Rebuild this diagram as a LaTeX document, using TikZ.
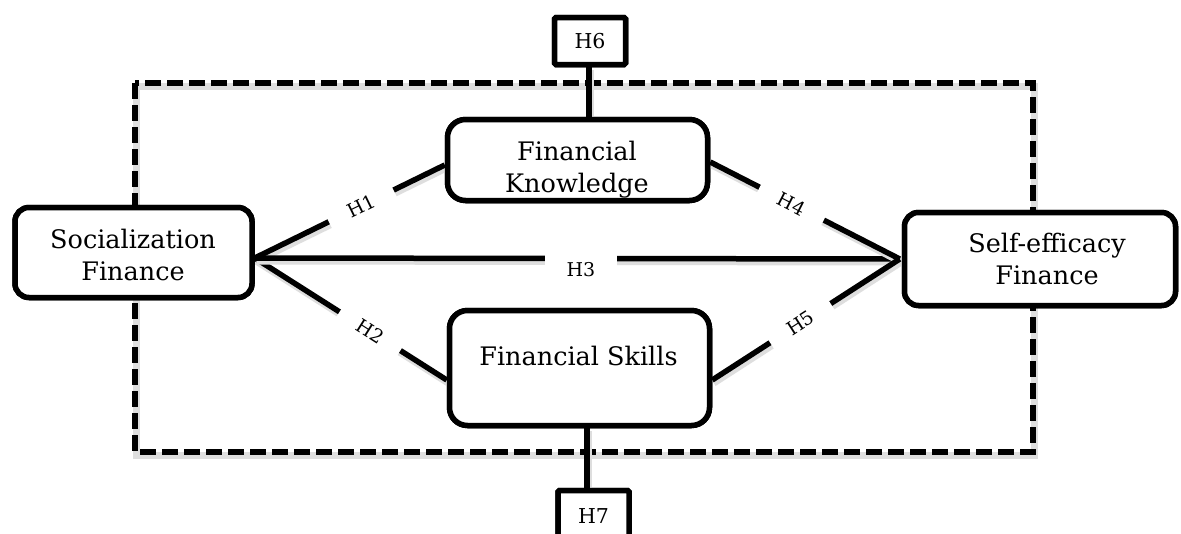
\documentclass[tikz,border=0pt]{standalone}
\usepackage{fontspec}
\setmainfont{DejaVu Serif}
\begin{document}
\begin{tikzpicture}[x=1pt,y=-1pt,
  box/.style={draw, line width=5.5pt, rounded corners=14pt, fill=white, inner sep=0pt},
  hbox/.style={draw, line width=5.5pt, rounded corners=1.5pt, fill=white, minimum width=71pt, minimum height=47pt, inner sep=0pt, font=\fontsize{20.5}{22}\selectfont},
  txt/.style={align=center, inner sep=0pt, font=\fontsize{25.5}{32}\selectfont},
  shadowed/.style={preaction={draw=black!13, line width=7pt, transform canvas={shift={(1.5pt,-3pt)}}}},
  link/.style={line width=5.5pt, shadowed},
  frame/.style={line width=5.5pt, dash pattern=on 16pt off 6pt, shadowed},
  hlab/.style={fill=white, sloped, minimum width=72pt, minimum height=18pt, inner sep=1pt, font=\fontsize{19}{20}\selectfont},
]
\clip (0,0) rectangle (1181,533);
\fill[white] (0,0) rectangle (1181,533);

% dashed frame
\draw[frame] (135,83) rectangle (1033,452);

% boxes (placed first to get anchors, redrawn on top later)
\path
  node[box, minimum width=237pt, minimum height=90pt] (soc) at (133.5,252.5) {}
  node[box, minimum width=260pt, minimum height=81pt, rounded corners=18pt] (fk) at (577.5,160) {}
  node[box, minimum width=260pt, minimum height=115pt, rounded corners=18pt] (fs) at (579.5,368) {}
  node[box, minimum width=271pt, minimum height=93pt] (sef) at (1040,259) {}
  node[hbox] (h6) at (590,41) {}
  node[hbox, minimum height=52pt] (h7) at (593.5,516.5) {};

\coordinate (sa) at ([yshift=-5.5pt]soc.east);
\coordinate (ea) at ([xshift=-2pt]sef.west);

% connectors
\draw[link] ([xshift=-1pt]h6.south) -- ([xshift=11.5pt]fk.north);
\draw[link] ([xshift=7.5pt]fs.south) -- ([xshift=-6.5pt]h7.north);
\draw[link] (sa) -- ([yshift=-5pt]fk.west) node[hlab, pos=0.56] (l1) {H1};
\draw[link] (sa) -- ([yshift=-12pt]fs.west) node[hlab, pos=0.6] (l2) {H2};
\draw[link] (sa) -- (ea);
\draw[link] ([yshift=-2pt]fk.east) -- (ea) node[hlab, pos=0.43] (l4) {H4};
\draw[link] ([yshift=-12pt]fs.east) -- (ea) node[hlab, pos=0.47] (l5) {H5};
\node[fill=white, minimum width=72pt, minimum height=34pt, inner sep=0pt, font=\fontsize{19}{20}\selectfont] (l3) at (581,270) {H3};

% boxes on top
\node[box, minimum width=237pt, minimum height=90pt] at (soc) {};
\node[box, minimum width=260pt, minimum height=81pt, rounded corners=18pt] at (fk) {};
\node[box, minimum width=260pt, minimum height=115pt, rounded corners=18pt] at (fs) {};
\node[box, minimum width=271pt, minimum height=93pt] at (sef) {};
\node[hbox] at (h6) {H6};
\node[hbox, minimum height=52pt] at (h7) {H7};

% texts
\node[txt] (soct) at (133,254.5) {Socialization\\Finance};
\node[txt] (fkt) at (577,170) {Financial\\Knowledge};
\node[txt] (fst) at (578.5,355.5) {Financial Skills};
\node[txt] (seft) at (1047,258.5) {Self-efficacy\\Finance};
\end{tikzpicture}
\end{document}
